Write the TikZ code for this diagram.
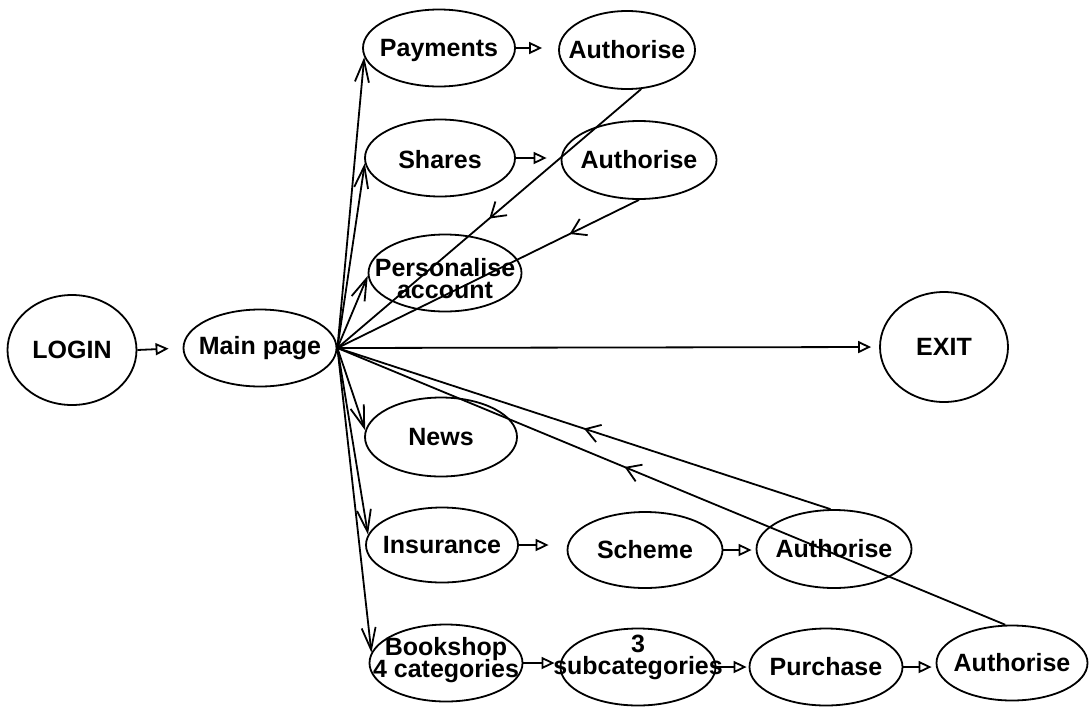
\documentclass[tikz,border=0pt]{standalone}
\usepackage{fontspec}
\setmainfont{Liberation Sans}
\usetikzlibrary{arrows.meta,shapes.geometric,decorations.markings}
\newcommand\nodetext[2][0pt]{\makebox[0pt]{\raisebox{#1}[\height][\depth]{\vbox{\baselineskip=11pt\lineskiplimit=-20pt\let\\\cr\halign{\hfil##\hfil\cr#2\crcr}}}}}
\begin{document}
\begin{tikzpicture}[x=0.5pt,y=-0.5pt,line width=0.9pt,
  state/.style={ellipse,draw,inner sep=0pt,font=\bfseries\fontsize{12.5}{11}\selectfont},
  flow/.style={-{Triangle[open,length=6.5pt,width=6pt]}},
  hubarrow/.style={-{Straight Barb[length=11pt,width=7pt]}},
  back/.style={postaction={decorate},decoration={markings,mark=at position #1 with {\arrow{Straight Barb[length=7pt,width=9pt]}}}}]
\useasboundingbox[fill=white] (0,0) rectangle (1092,707);
% nodes
\node[state,minimum width=64.5pt,minimum height=55pt] (login) at (72,350) {\nodetext{LOGIN}};
\node[state,minimum width=76.5pt,minimum height=38.5pt] (main) at (260,348) {\nodetext{Main page}};
\node[state,minimum width=76pt,minimum height=38.5pt] (pay) at (439,48) {\nodetext[-1pt]{Payments}};
\node[state,minimum width=68pt,minimum height=39pt] (au1) at (627,50) {\nodetext{Authorise}};
\node[state,minimum width=75pt,minimum height=38.5pt] (shares) at (440,158) {\nodetext[-1pt]{Shares}};
\node[state,minimum width=77.5pt,minimum height=39pt] (au2) at (639,160) {\nodetext{Authorise}};
\node[state,minimum width=76.5pt,minimum height=38.5pt] (pers) at (445,273) {\nodetext[-3pt]{Personalise\\account}};
\node[state,minimum width=64pt,minimum height=55pt] (exit) at (944,347) {\nodetext{EXIT}};
\node[state,minimum width=76pt,minimum height=39.5pt] (news) at (441,437) {\nodetext{News}};
\node[state,minimum width=76pt,minimum height=37.5pt] (ins) at (442,545) {\nodetext{Insurance}};
\node[state,minimum width=77.5pt,minimum height=38pt] (scheme) at (645,550) {\nodetext{Scheme}};
\node[state,minimum width=77.5pt,minimum height=39pt] (au3) at (834,549) {\nodetext{Authorise}};
\node[state,minimum width=76.5pt,minimum height=38.5pt] (book) at (446,663) {\nodetext[1.5pt]{Bookshop\\4 categories}};
\node[state,minimum width=77.5pt,minimum height=38.5pt] (sub) at (638,667) {\nodetext[5pt]{3\\subcategories}};
\node[state,minimum width=76.5pt,minimum height=38.5pt] (purch) at (826,667) {\nodetext{Purchase}};
\node[state,minimum width=75.5pt,minimum height=37.5pt] (au4) at (1012,663) {\nodetext{Authorise}};
\coordinate (hub) at (main.east);
% forward flow arrows
\draw[flow,shorten >=7pt] (login.east) -- (main.west);
\draw[flow,shorten >=4pt] (main.east) -- (exit.west);
\draw[flow,shorten >=8pt] (pay.east) -- (pay.east -| au1.west);
\draw[flow,shorten >=7pt] (shares.east) -- (shares.east -| au2.west);
\draw[flow,shorten >=9pt] (ins.east) -- (ins.east -| scheme.west);
\draw[flow,shorten >=2pt] (scheme.east) -- (scheme.east -| au3.west);
\draw[flow,shorten >=2.5pt] (book.east) -- (book.east -| sub.west);
\draw[flow,shorten >=1pt] (sub.east) -- (sub.east -| purch.west);
\draw[flow,shorten >=2pt] (purch.east) -- (purch.east -| au4.west);
% hub to menu pages
\draw[hubarrow] (hub) -- (pay.187);
\draw[hubarrow] (hub) -- (shares.184);
\draw[hubarrow] (hub) -- (pers.182);
\draw[hubarrow] (hub) -- (news.175);
\draw[hubarrow] (hub) -- (ins.172);
\draw[hubarrow] (hub) -- (book.172);
% returns to main page
\draw[back=0.5] (au1.-70) -- (hub);
\draw[back=0.23] (au2.south) -- (hub);
\draw[back=0.5] (au3.95) -- (hub);
\draw[back=0.57] (au4.100) -- (hub);
\end{tikzpicture}
\end{document}
